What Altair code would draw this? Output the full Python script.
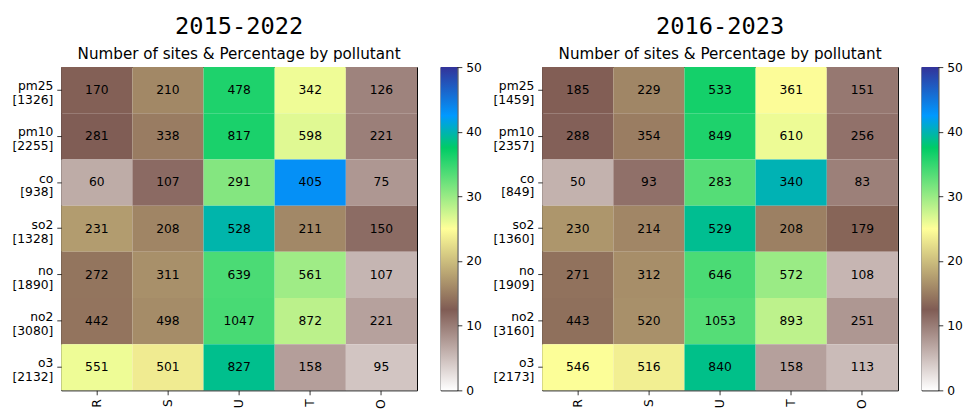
import altair as alt
import pandas as pd

columns = ["R", "S", "U", "T", "O"]
pollutants = ["pm25", "pm10", "co", "so2", "no", "no2", "o3"]

# site counts per pollutant (rows) and column category, 2015-2022
p1_pm25 = [170, 210, 478, 342, 126]
p1_pm10 = [281, 338, 817, 598, 221]
p1_co = [60, 107, 291, 405, 75]
p1_so2 = [231, 208, 528, 211, 150]
p1_no = [272, 311, 639, 561, 107]
p1_no2 = [442, 498, 1047, 872, 221]
p1_o3 = [551, 501, 827, 158, 95]

# 2016-2023
p2_pm25 = [185, 229, 533, 361, 151]
p2_pm10 = [288, 354, 849, 610, 256]
p2_co = [50, 93, 283, 340, 83]
p2_so2 = [230, 214, 529, 208, 179]
p2_no = [271, 312, 646, 572, 108]
p2_no2 = [443, 520, 1053, 893, 251]
p2_o3 = [546, 516, 840, 158, 113]

periods = ["2015-2022", "2016-2023"]
period_rows = [
    [p1_pm25, p1_pm10, p1_co, p1_so2, p1_no, p1_no2, p1_o3],
    [p2_pm25, p2_pm10, p2_co, p2_so2, p2_no, p2_no2, p2_o3],
]

# matplotlib terrain_r colormap stops on 0..50 (percent)
cbar_min, cbar_max = 0, 50
cbar_ticks = [0, 10, 20, 30, 40, 50]
cmap_domain = [0, 12.5, 25, 37.5, 42.5, 50]
cmap_range = ["#ffffff", "#805c54", "#ffff99", "#00cc66", "#0099ff", "#333399"]

W, H = 361, 328
FS = 12.5
CBW = 17


def axis_style(**kw):
    return alt.Axis(labelFontSize=FS, tickSize=4.5, labelPadding=4, domain=False,
                    tickColor="black", labelColor="black", tickWidth=0.8,
                    grid=False, title=None, **kw)


def make_panel(title, rows):
    recs = []
    labels = []
    for p, vals in zip(pollutants, rows):
        total = sum(vals)
        lab = f"{p}\n[{total}]"
        labels.append(lab)
        for c, v in zip(columns, vals):
            recs.append({"row": lab, "col": c, "count": v, "pct": 100.0 * v / total})
    df = pd.DataFrame(recs)
    base = alt.Chart(df).encode(
        x=alt.X("col:N", sort=columns, title=None, axis=axis_style(labelAngle=270)),
        y=alt.Y("row:N", sort=labels, title=None,
                axis=axis_style(labelExpr="split(datum.label, '\\n')",
                                labelBaseline="alphabetic", labelLineHeight=14)),
    )
    rect = base.mark_rect().encode(
        color=alt.Color("pct:Q",
                        scale=alt.Scale(domain=cmap_domain, range=cmap_range, interpolate="rgb"),
                        legend=None)
    )
    text = base.mark_text(fontSize=FS, color="black", font="DejaVu Sans").encode(
        text=alt.Text("count:Q")
    )
    return alt.layer(rect, text).properties(
        width=W, height=H,
        title=alt.TitleParams(text=title, subtitle="Number of sites & Percentage by pollutant",
                              font="DejaVu Sans Mono", fontSize=24, fontWeight="normal",
                              subtitleFont="DejaVu Sans", subtitleFontSize=15.4,
                              subtitleColor="black", color="black",
                              anchor="middle", subtitlePadding=8, offset=5),
    )


def make_colorbar():
    cb = pd.DataFrame({"lo": [cbar_min], "hi": [cbar_max]})
    grad = alt.LinearGradient(
        gradient="linear", x1=0, x2=0, y1=1, y2=0,
        stops=[alt.GradientStop(offset=(d - cbar_min) / (cbar_max - cbar_min), color=c)
               for d, c in zip(cmap_domain, cmap_range)],
    )
    return alt.Chart(cb).mark_rect(fill=grad).encode(
        x=alt.value(0), x2=alt.value(CBW),
        y=alt.Y("lo:Q", scale=alt.Scale(domain=[cbar_min, cbar_max], nice=False, zero=False),
                axis=axis_style(orient="right", values=cbar_ticks, labelBaseline="middle",
                                labelBound=False, labelFlush=False, labelOverlap=False)),
        y2="hi:Q",
    ).properties(width=CBW, height=H)


panels = [
    alt.hconcat(make_panel(periods[i], period_rows[i]), make_colorbar(), spacing=22)
    .resolve_scale(y="independent")
    for i in range(2)
]

chart = alt.hconcat(*panels, spacing=10).resolve_scale(
    y="independent", color="independent"
).configure(
    font="DejaVu Sans", padding={"left": 3, "top": 4, "right": 0, "bottom": 0}
).configure_view(stroke="black", strokeWidth=1)

chart.save("out.html", embed_options={"renderer": "svg", "actions": False})
